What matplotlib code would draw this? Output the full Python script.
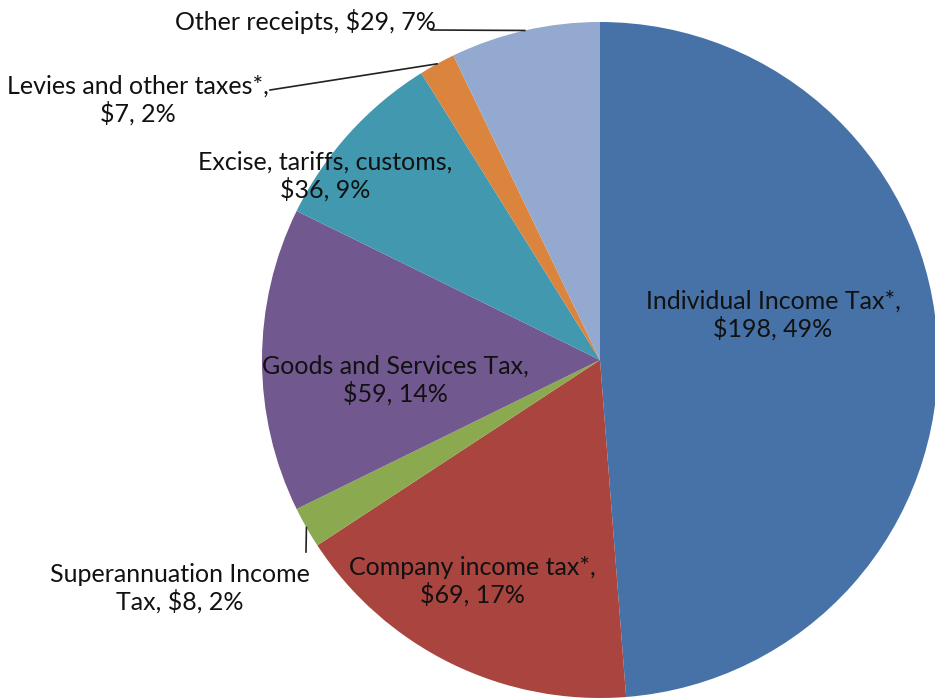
import numpy as np
import matplotlib
matplotlib.use("Agg")
import matplotlib.pyplot as plt

# revenue by source ($bn) and the shares as printed on the labels
names = ["Individual Income Tax*", "Company income tax*", "Superannuation Income Tax",
         "Goods and Services Tax", "Excise, tariffs, customs", "Levies and other taxes*",
         "Other receipts"]
values = [198, 69, 8, 59, 36, 7, 29]
percents = [49, 17, 2, 14, 9, 2, 7]
label_text = [
    "Individual Income Tax*,\n$198, 49%",
    "Company income tax*,\n$69, 17%",
    "Superannuation Income\nTax, $8, 2%",
    "Goods and Services Tax,\n$59, 14%",
    "Excise, tariffs, customs,\n$36, 9%",
    "Levies and other taxes*,\n$7, 2%",
    "Other receipts, $29, 7%",
]
colors = ["#4672A8", "#A9443F", "#8BA94E", "#71588F", "#4198AF", "#DB843D", "#93A9CF"]

W, H = 935, 700
cx, cy, R = 600, 340, 338

# label anchor points (figure pixels, y up) and which ones get a leader line
label_pos = [(773, 385), (472, 119), (180, 112), (395, 320), (325, 524), (138, 600), (305, 678)]
leader_from = {2: (306, 148), 5: (270, 610), 6: (431, 670)}

plt.rcParams['font.family'] = ['Lato', 'DejaVu Sans']

fig = plt.figure(figsize=(W / 100, H / 100), dpi=100)
ax = fig.add_axes([0, 0, 1, 1])
ax.pie(values, colors=colors, startangle=90, counterclock=False,
       center=(cx, cy), radius=R, frame=True,
       wedgeprops=dict(linewidth=0))
ax.set_xlim(0, W)
ax.set_ylim(0, H)
ax.set_aspect('equal')
ax.axis('off')

total = sum(values)
cum = np.cumsum([0] + values)
for i, (txt, (x, y)) in enumerate(zip(label_text, label_pos)):
    ax.text(x, y, txt, ha='center', va='center', fontsize=18,
            color='#111111', linespacing=1.15)
    if i in leader_from:
        # leader runs from the label to the slice's mid point on the rim
        mid = (cum[i] + cum[i + 1]) / 2 / total * 360
        ang = np.deg2rad(90 - mid)
        ex, ey = cx + R * np.cos(ang), cy + R * np.sin(ang)
        sx, sy = leader_from[i]
        ax.plot([sx, ex], [sy, ey], color='#222222', lw=1.2)

fig.savefig("out.png", dpi=100)
